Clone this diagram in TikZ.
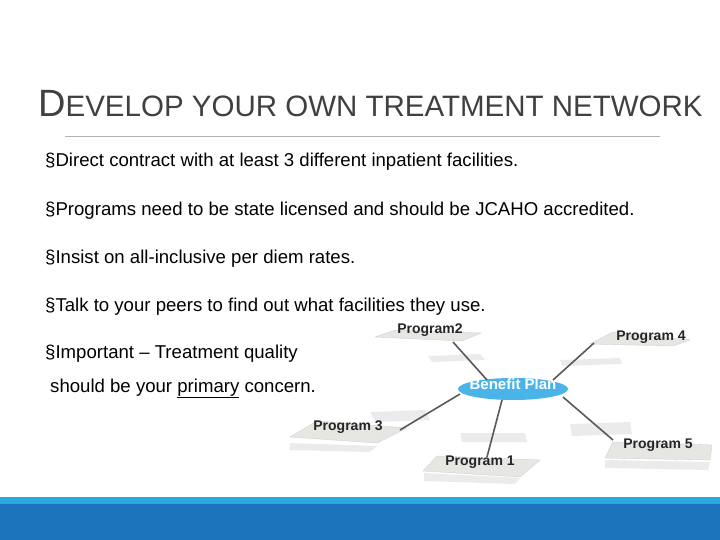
\documentclass[tikz,border=0pt]{standalone}
\usepackage{fontspec}
\setmainfont{Liberation Sans}
\usetikzlibrary{shapes.geometric}
\definecolor{barlight}{HTML}{29A9E0}
\definecolor{bardark}{HTML}{1C75BC}
\definecolor{plan}{HTML}{4AB3E8}
\definecolor{plate}{HTML}{E6E6E3}
\definecolor{titlec}{HTML}{404040}
\begin{document}
\begin{tikzpicture}[x=1pt,y=-1pt,
  bul/.style={anchor=base west,inner sep=0pt,font=\fontsize{18.6}{20}\selectfont,text=black},
  plat/.style={fill=plate,draw=gray!40,line width=0.3pt},
  shad/.style={fill=gray!60,opacity=0.25,draw=none},
  lbl/.style={font=\bfseries\fontsize{14}{15}\selectfont,text=gray!30!black,inner sep=0pt},
  link/.style={draw=gray!70!black,line width=1.6pt}]
\useasboundingbox (0,0) rectangle (720,540);
\fill[white] (0,0) rectangle (720,540);
\node[anchor=base west,inner sep=0pt,text=titlec] (title) at (38,117)
 {\fontsize{38}{40}\selectfont D\fontsize{29.5}{31}\selectfont EVELOP YOUR OWN TREATMENT NETWORK};
\draw[gray!60,line width=0.6pt] (65,136) coordinate (l1) -- (660,136) coordinate (l2);
\node[bul] (b1) at (45,167) {\S Direct contract with at least 3 different inpatient facilities.};
\node[bul] (b2) at (45,215) {\S Programs need to be state licensed and should be JCAHO accredited.};
\node[bul] (b3) at (45,263) {\S Insist on all-inclusive per diem rates.};
\node[bul] (b4) at (45,311) {\S Talk to your peers to find out what facilities they use.};
\node[bul] (b5) at (45,358) {\S Important -- Treatment quality};
\node[bul] (b6) at (50,392) {should be your \underline{primary} concern.};
% shadows
\fill[shad] (428,356) -- (480,354) -- (485,360) -- (432,362) -- cycle;
\fill[shad] (560,360) -- (620,358) -- (622,364) -- (562,366) -- cycle;
\fill[shad] (370,412) -- (425,410) -- (430,420) -- (375,422) -- cycle;
\fill[shad] (460,433) -- (525,433) -- (527,442) -- (462,442) -- cycle;
\fill[shad] (570,424) -- (630,422) -- (632,434) -- (572,436) -- cycle;
\fill[shad] (290,443) -- (377,446) -- (370,452) -- (290,450) -- cycle;
\fill[shad] (424,473) -- (520,478) -- (515,484) -- (424,481) -- cycle;
\fill[shad] (605,460) -- (710,462) -- (708,470) -- (605,468) -- cycle;
% plates
\fill[plat] (375,337) -- (395,330) -- (481,333) -- (462,341) -- cycle;
\fill[plat] (590,344) -- (613,332) -- (690,340) -- (673,346) -- cycle;
\fill[plat] (290,437) -- (317,421) -- (407,428) -- (377,443) -- cycle;
\fill[plat] (423,471) -- (437,456) -- (540,460) -- (520,477) -- cycle;
\fill[plat] (605,458) -- (613,442) -- (712,445) -- (710,460) -- cycle;
% hub
\node[ellipse,fill=plan,minimum width=110pt,minimum height=22pt,inner sep=0pt] (hub) at (513,389) {};
\coordinate (c2) at (453,342); \coordinate (c4) at (594,343);
\coordinate (c3) at (400,430); \coordinate (c1) at (487,457);
\coordinate (c5) at (613,440);
\coordinate (h2) at (487,380); \coordinate (h4) at (553,380);
\coordinate (h3) at (460,394); \coordinate (h1) at (502,400);
\coordinate (h5) at (563,397);
\draw[link] (c2) -- (h2); \draw[link] (c4) -- (h4);
\draw[link] (h3) -- (c3); \draw[link] (h1) -- (c1); \draw[link] (h5) -- (c5);
\node[lbl] (p2) at (430,330) {Program2};
\node[lbl] (p4) at (651,337) {Program 4};
\node[lbl,text=white,font=\bfseries\fontsize{15}{16}\selectfont] (bp) at (513,384) {Benefit Plan};
\node[lbl] (p3) at (348,427) {Program 3};
\node[lbl] (p1) at (480,462) {Program 1};
\node[lbl] (p5) at (658,445) {Program 5};
% bottom bar
\fill[barlight] (0,497) rectangle (720,504);
\fill[bardark] (0,504) rectangle (720,540);
\end{tikzpicture}
\end{document}
